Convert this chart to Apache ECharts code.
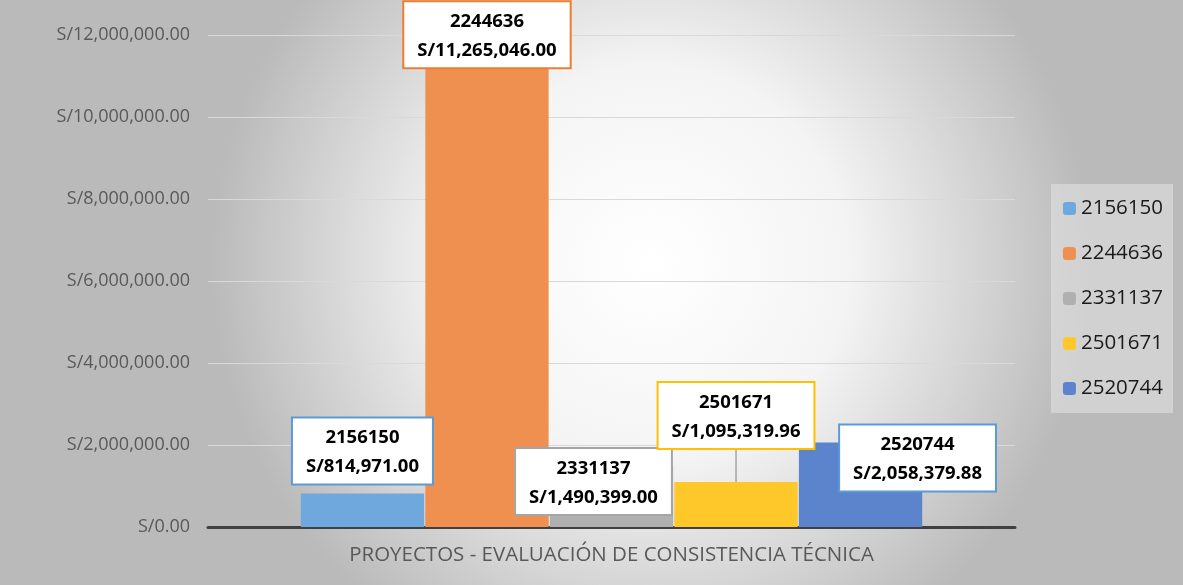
<!DOCTYPE html>
<html>
<head>
<meta charset="utf-8">
<script src="https://cdn.jsdelivr.net/npm/echarts@6/dist/echarts.min.js"></script>
<style>
  html, body { margin: 0; padding: 0; }
  #chart { width: 1183px; height: 585px; }
</style>
</head>
<body>
<div id="chart"></div>
<script>
  // datos del grafico
  var categoria = ['PROYECTOS - EVALUACIÓN DE CONSISTENCIA TÉCNICA']
  var proyectos = ['2156150', '2244636', '2331137', '2501671', '2520744']
  var montos = [814971.00, 11265046.00, 1490399.00, 1095319.96, 2058379.88]
  var colores = ['#6fa8dc', '#ef9050', '#b0b0b0', '#ffc82a', '#5b84cc']
  var bordes = ['#5b9bd5', '#ed7d31', '#a5a5a5', '#ffc000', '#5b9bd5']
  // desplazamiento de cada etiqueta respecto a su barra
  var desplaza = [[0, 0], [0, 12], [-18, 58], [-2, 0], [57, 58]]
  var ticks = [0, 2000000, 4000000, 6000000, 8000000, 10000000, 12000000]

  function soles(v) {
    return 'S/' + v.toLocaleString('en-US', { minimumFractionDigits: 2, maximumFractionDigits: 2 })
  }

  var myChart = echarts.init(document.getElementById('chart'))
  var fuente = '"Open Sans", "Noto Sans", sans-serif'

  var series = []
  for (var i = 0; i < proyectos.length; i++) {
    var s = {
      name: proyectos[i],
      type: 'bar',
      barGap: '1%',
      barCategoryGap: '23%',
      itemStyle: { color: colores[i] },
      label: {
        show: true,
        position: 'top',
        distance: 10,
        offset: desplaza[i],
        formatter: (function(n) { return function(p) { return n + '\n' + soles(p.value) } })(proyectos[i]),
        color: '#000',
        fontFamily: fuente,
        fontWeight: 'bold',
        fontSize: 18.5,
        lineHeight: 29,
        align: 'center',
        backgroundColor: '#fff',
        borderColor: bordes[i],
        borderWidth: 2,
        padding: [5, 13, 2, 13]
      },
      data: [montos[i]]
    }
    if (i === 3) {
      s.labelLayout = { dy: -24 }
      s.labelLine = { show: true, lineStyle: { color: '#7f7f7f', width: 1 } }
    }
    series.push(s)
  }

  var option = {
    backgroundColor: new echarts.graphic.RadialGradient(0.55, 0.45, 0.75, [
      { offset: 0, color: '#ffffff' },
      { offset: 0.45, color: '#f4f4f4' },
      { offset: 1, color: '#bababa' }
    ]),
    animation: false,
    legend: {
      orient: 'vertical',
      right: 10,
      top: 184,
      padding: [14, 10, 14, 12],
      itemGap: 24,
      itemWidth: 13,
      itemHeight: 13,
      backgroundColor: 'rgba(225,225,225,0.6)',
      textStyle: { color: '#1a1a1a', fontSize: 20.5, fontFamily: fuente },
      data: proyectos
    },
    grid: { left: 208, right: 168, top: 35, bottom: 58 },
    xAxis: {
      type: 'category',
      data: categoria,
      axisTick: { show: false },
      axisLine: { lineStyle: { color: '#404040', width: 3 } },
      axisLabel: { color: '#595959', fontSize: 20.5, fontFamily: fuente, margin: 18 }
    },
    yAxis: {
      type: 'value',
      min: 0,
      max: ticks[ticks.length - 1],
      interval: ticks[1] - ticks[0],
      axisLine: { show: false },
      axisTick: { show: false },
      splitLine: { lineStyle: { color: '#d9d9d9', width: 1 } },
      axisLabel: {
        color: '#595959',
        fontSize: 18,
        fontFamily: fuente,
        margin: 18,
        formatter: function(v) { return soles(v) }
      }
    },
    series: series
  }
  myChart.setOption(option)
</script>
</body>
</html>
